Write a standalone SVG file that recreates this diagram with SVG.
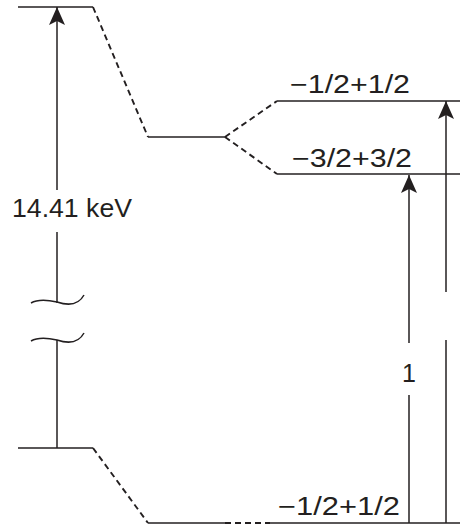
<svg xmlns="http://www.w3.org/2000/svg" width="460" height="526" viewBox="0 0 460 526">
<defs>
<marker id="ah" viewBox="-19 -9 20 18" markerWidth="20" markerHeight="18" refX="0" refY="0" orient="auto" markerUnits="userSpaceOnUse">
<path d="M0,0 L-18,-8 L-14,0 L-18,8 Z" fill="#231f20"/>
</marker>
</defs>
<style>
.lvl{stroke:#231f20;stroke-width:1.7;fill:none}
.dash{stroke:#231f20;stroke-width:1.9;fill:none;stroke-dasharray:6 4}
.ln{stroke:#231f20;stroke-width:1.5;fill:none}
.lbl{font-family:"Liberation Sans",Arial,sans-serif;font-size:25px;fill:#231f20}
</style>
<rect width="460" height="526" fill="#fff"/>
<g id="excited-level">
<line class="lvl" x1="18" y1="7" x2="93" y2="7"/>
</g>
<g id="excited-mid">
<line class="lvl" x1="148" y1="137" x2="225" y2="137"/>
</g>
<g id="level-upper">
<line class="lvl" x1="277" y1="101" x2="460" y2="101"/>
<text class="lbl" x="290" y="93" textLength="120" lengthAdjust="spacingAndGlyphs">−1/2+1/2</text>
</g>
<g id="level-lower">
<line class="lvl" x1="277" y1="174" x2="460" y2="174"/>
<text class="lbl" x="292" y="167" textLength="120" lengthAdjust="spacingAndGlyphs">−3/2+3/2</text>
</g>
<g id="ground-level">
<line class="lvl" x1="18" y1="448" x2="93" y2="448"/>
</g>
<g id="ground-right">
<line class="lvl" x1="148" y1="523" x2="225" y2="523"/>
<line class="lvl" x1="270" y1="523" x2="460" y2="523"/>
<text class="lbl" x="278" y="515" font-size="26" textLength="122" lengthAdjust="spacingAndGlyphs">−1/2+1/2</text>
</g>
<g id="energy-label">
<text class="lbl" x="12" y="217" font-size="26" textLength="120" lengthAdjust="spacingAndGlyphs">14.41 keV</text>
</g>
<g id="line-label">
<text class="lbl" x="409" y="382" font-size="26" text-anchor="middle">1</text>
</g>
<g id="connectors">
<line class="dash" x1="93" y1="7" x2="148" y2="137"/>
<line class="dash" x1="225" y1="137" x2="277" y2="101"/>
<line class="dash" x1="225" y1="137" x2="277" y2="174"/>
<line class="dash" x1="93" y1="448" x2="148" y2="523"/>
<line class="dash" x1="225" y1="523" x2="270" y2="523"/>
<path class="ln" d="M57,190 L57,7" marker-end="url(#ah)"/>
<line class="ln" x1="57" y1="232" x2="57" y2="303"/>
<line class="ln" x1="57" y1="340" x2="57" y2="448"/>
<path class="ln" d="M31,303 C38,299 48,300 57,302 C66,305 78,306 84,295"/>
<path class="ln" d="M31,341 C38,337 48,338 57,340 C66,343 78,344 84,333"/>
<path class="ln" d="M409,343 L409,175" marker-end="url(#ah)"/>
<line class="ln" x1="409" y1="395" x2="409" y2="523"/>
<path class="ln" d="M446,292 L446,101" marker-end="url(#ah)"/>
<line class="ln" x1="446" y1="340" x2="446" y2="523"/>
</g>
</svg>
